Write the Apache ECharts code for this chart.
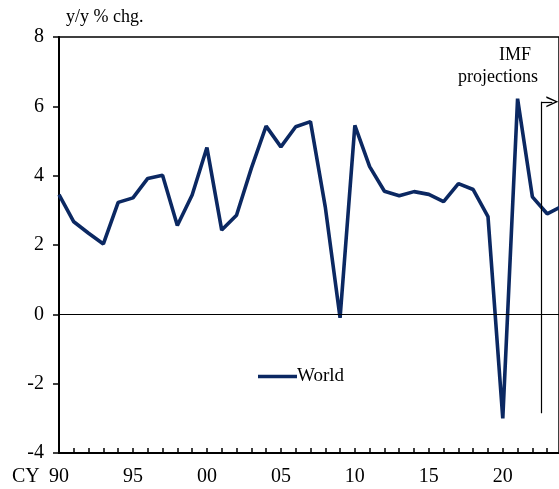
<!DOCTYPE html>
<html>
<head>
<meta charset="utf-8">
<script src="https://cdn.jsdelivr.net/npm/echarts@6/dist/echarts.min.js"></script>
<style>
  html, body { margin: 0; padding: 0; background: #fff; }
  #chart { width: 559px; height: 489px; }
</style>
</head>
<body>
<div id="chart"></div>
<script>
// world real GDP, y/y % chg.
const years = [1990, 1991, 1992, 1993, 1994, 1995, 1996, 1997, 1998, 1999,
  2000, 2001, 2002, 2003, 2004, 2005, 2006, 2007, 2008, 2009,
  2010, 2011, 2012, 2013, 2014, 2015, 2016, 2017, 2018, 2019,
  2020, 2021, 2022, 2023, 2024]
const world = [3.45, 2.67, 2.34, 2.03, 3.23, 3.36, 3.92, 4.01, 2.56, 3.44,
  4.81, 2.43, 2.86, 4.21, 5.43, 4.83, 5.41, 5.56, 3.1, -0.1,
  5.45, 4.26, 3.55, 3.42, 3.54, 3.46, 3.25, 3.77, 3.6, 2.82,
  -3.0, 6.22, 3.39, 2.9, 3.12]
const yTicks = [-4, -2, 0, 2, 4, 6, 8]
// where the IMF projections start
const projStart = 2022.6
const projTop = 6.13
const projBottom = -2.85
const projArrowEnd = 2023.35

const font = 'Liberation Serif, Times New Roman, serif'
let myChart = echarts.init(document.getElementById('chart'))

let data = []
for (let i = 0; i < years.length; i++) {
  data.push([years[i], world[i]])
}

myChart.setOption({
  animation: false,
  grid: {
    left: 59, top: 37, right: -1, bottom: 36,
    show: true, borderColor: '#000', borderWidth: 1.5
  },
  legend: {
    left: 253, top: 362,
    itemWidth: 39, itemHeight: 3.5, itemGap: 2,
    textStyle: { fontFamily: font, fontSize: 19, color: '#000', padding: [0, 0, 0, -5] },
    data: [{ name: 'World', icon: 'rect' }]
  },
  graphic: [
    { type: 'text', left: 66, top: 8, style: { text: 'y/y % chg.', font: '18px ' + font, fill: '#000' } },
    { type: 'text', left: 12, top: 467, style: { text: 'CY', font: '20px ' + font, fill: '#000' } },
    { type: 'text', left: 499, top: 46, style: { text: 'IMF', font: '18px ' + font, fill: '#000', align: 'center' } },
    { type: 'text', left: 458, top: 68, style: { text: 'projections', font: '18px ' + font, fill: '#000' } }
  ],
  xAxis: {
    type: 'value',
    min: 1990, max: 2023.8, interval: 1,
    axisLine: { onZero: false, lineStyle: { color: '#000', width: 2 } },
    axisTick: { inside: true, length: 5, lineStyle: { color: '#000', width: 1.5 } },
    splitLine: { show: false },
    axisLabel: {
      margin: 14, fontFamily: font, fontSize: 20, color: '#000',
      showMaxLabel: false,
      formatter: v => (v % 5 === 0 ? String(v).slice(2) : '')
    }
  },
  yAxis: {
    type: 'value',
    min: yTicks[0], max: yTicks[yTicks.length - 1], interval: 2,
    axisLine: { show: true, lineStyle: { color: '#000', width: 2 } },
    axisTick: { show: true, length: 6, lineStyle: { color: '#000', width: 1.5 } },
    splitLine: { show: false },
    axisLabel: { margin: 15, fontFamily: font, fontSize: 20, color: '#000' }
  },
  series: [{
    name: 'World',
    type: 'line',
    data: data,
    symbol: 'none',
    lineStyle: { color: '#0b2862', width: 3.6 },
    itemStyle: { color: '#0b2862' },
    markLine: {
      silent: true,
      animation: false,
      label: { show: false },
      symbol: 'none',
      lineStyle: { color: '#000', width: 1.2, type: 'solid' },
      data: [
        [{ coord: [1990, 0] }, { coord: [2023.8, 0] }],
        [{ coord: [projStart, projTop] }, { coord: [projStart, projBottom] }],
        [{ coord: [projStart, projTop], symbol: 'none' },
         { coord: [projArrowEnd, projTop], symbol: 'path://M0,12L6,0L12,12L10.3,12L6,3.2L1.7,12Z', symbolSize: [11, 12] }]
      ]
    }
  }]
})
</script>
</body>
</html>
